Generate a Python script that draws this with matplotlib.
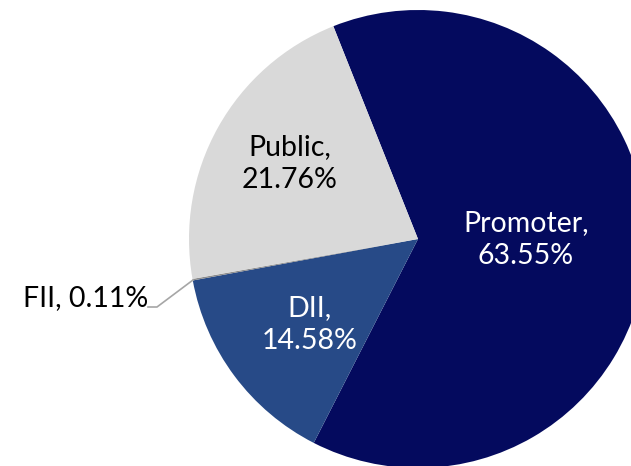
import matplotlib
matplotlib.use("Agg")
import matplotlib.pyplot as plt

categories = ["Promoter", "DII", "FII", "Public"]
values = [63.55, 14.58, 0.11, 21.76]
labels = ["Promoter,\n63.55%", "DII,\n14.58%", "FII, 0.11%", "Public,\n21.76%"]
colors = ["#040A5E", "#274A87", "#8C8C8C", "#D9D9D9"]

plt.rcParams['font.family'] = ['Lato', 'DejaVu Sans']

fig = plt.figure(figsize=(6.31, 4.66), dpi=100)
ax = fig.add_axes([0, 0, 1, 1])

cx, cy, r = 418, 466 - 239, 229
wedges, _ = ax.pie(values, colors=colors, startangle=111.7, counterclock=False,
                   center=(cx, cy), radius=r, frame=True,
                   wedgeprops=dict(linewidth=0))
ax.set_xlim(0, 631)
ax.set_ylim(0, 466)
ax.set_aspect('equal')
ax.axis('off')

fs = 20.5
ls = 1.33
ax.text(526, 466 - 240, labels[0], ha='center', va='center', color='white', fontsize=fs, linespacing=ls)
ax.text(310, 466 - 325, labels[1], ha='center', va='center', color='white', fontsize=fs, linespacing=ls)
ax.text(290, 466 - 164, labels[3], ha='center', va='center', color='black', fontsize=fs, linespacing=ls)
ax.text(148, 466 - 298, labels[2], ha='right', va='center', color='black', fontsize=fs)
ax.plot([193, 157, 148], [466 - 280, 466 - 307, 466 - 307], color='#A6A6A6', lw=1.2)

fig.savefig("out.png", dpi=100)
